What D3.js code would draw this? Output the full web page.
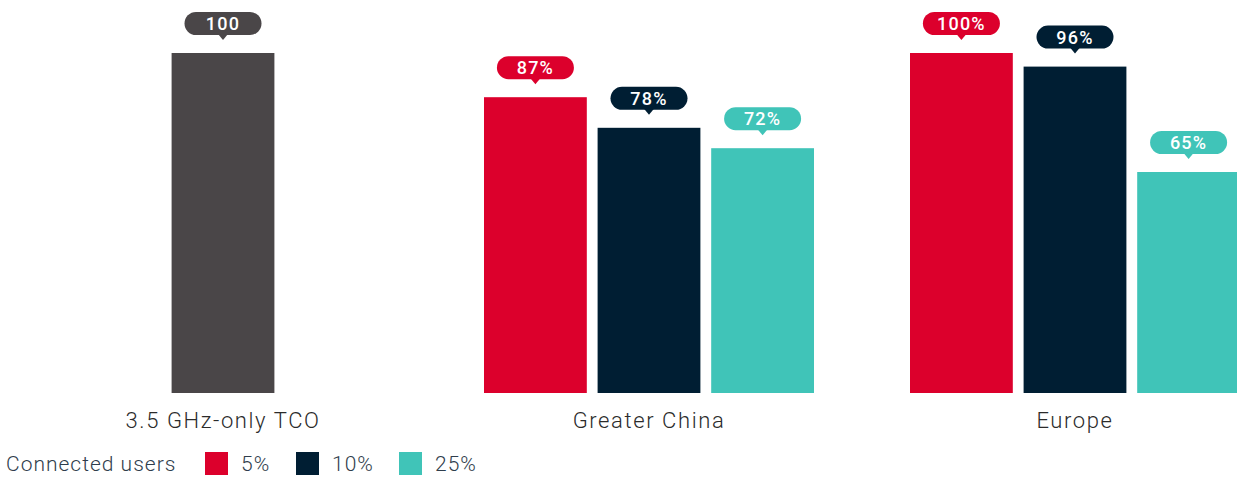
<!DOCTYPE html>
<html>
<head>
<meta charset="utf-8">
<script src="https://cdn.jsdelivr.net/npm/d3@7"></script>
<style>
	body { margin: 0; background: #fff; }
	svg { display: block; font-family: Roboto, "Noto Sans", sans-serif; }
</style>
</head>
<body>
<div id="chart"></div>
<script>
const groups = ["3.5 GHz-only TCO", "Greater China", "Europe"]
const seriesNames = ["5%", "10%", "25%"]
const baselineValue = 100
const share5 = [87, 100]
const share10 = [78, 96]
const share25 = [72, 65]

const colors = { "5%": "#dc002c", "10%": "#001e33", "25%": "#40c4b8", base: "#4a4648" }

const params = { width: 1237, height: 477, baseY: 393, topY: 53 }

// rows for the bars
const rows = [{ group: groups[0], series: "base", value: baselineValue, label: "100" }]
groups.slice(1).forEach((g, i) => {
	[share5, share10, share25].forEach((arr, j) => {
		rows.push({ group: g, series: seriesNames[j], value: arr[i], label: arr[i] + "%" })
	})
})

const svg = d3.select("#chart").append("svg")
	.attr("width", params.width)
	.attr("height", params.height)

const xScale = d3.scaleBand()
	.domain(groups)
	.range([10, 1288])

const innerScale = d3.scaleBand()
	.domain(seriesNames)
	.range([-165, 165])
	.paddingInner(0.095)

const yScale = d3.scaleLinear()
	.domain([0, 100])
	.range([params.baseY, params.topY])

const bw = innerScale.bandwidth()
const center = d => xScale(d.group) + xScale.bandwidth() / 2
const barX = d => d.series === "base" ? center(d) - bw / 2 : center(d) + innerScale(d.series)

svg.append("g")
	.selectAll("rect")
	.data(rows)
	.join("rect")
	.attr("x", barX)
	.attr("y", d => yScale(d.value))
	.attr("width", bw)
	.attr("height", d => params.baseY - yScale(d.value))
	.attr("fill", d => colors[d.series])

// value bubbles, pointer tip sits 14px above the bar
const bubW = 77, bubH = 23, gapBelow = 14
const bubbles = svg.append("g")
	.selectAll("g")
	.data(rows)
	.join("g")
	.attr("transform", d => `translate(${barX(d) + bw / 2}, ${yScale(d.value) - gapBelow})`)

bubbles.append("rect")
	.attr("x", -bubW / 2)
	.attr("y", -bubH - 4)
	.attr("width", bubW)
	.attr("height", bubH)
	.attr("rx", bubH / 2)
	.attr("fill", d => colors[d.series])

bubbles.append("path")
	.attr("d", "M-5,-5 L5,-5 L0,1 Z")
	.attr("fill", d => colors[d.series])

bubbles.append("text")
	.attr("y", -4 - bubH / 2)
	.attr("dy", "0.36em")
	.attr("text-anchor", "middle")
	.attr("fill", "#fff")
	.attr("font-size", 18)
	.attr("font-weight", 500)
	.attr("letter-spacing", "1.2px")
	.text(d => d.label)

// category labels
svg.append("g")
	.selectAll("text")
	.data(groups)
	.join("text")
	.attr("x", d => xScale(d) + xScale.bandwidth() / 2)
	.attr("y", 428)
	.attr("text-anchor", "middle")
	.attr("fill", "#2b2b2b")
	.attr("font-size", 22)
	.attr("font-weight", 300)
	.attr("letter-spacing", "1.6px")
	.text(d => d)

// legend
const legend = svg.append("g")
legend.append("text")
	.attr("x", 6)
	.attr("y", 471)
	.attr("fill", "#2f3d4c")
	.attr("font-size", 21)
	.attr("font-weight", 300)
	.attr("letter-spacing", "1px")
	.text("Connected users")

const legendX = [205, 296, 399]
seriesNames.forEach((s, i) => {
	legend.append("rect")
		.attr("x", legendX[i])
		.attr("y", 452)
		.attr("width", 23)
		.attr("height", 23)
		.attr("fill", colors[s])
	legend.append("text")
		.attr("x", legendX[i] + 36)
		.attr("y", 471)
		.attr("fill", "#2f3d4c")
		.attr("font-size", 21)
		.attr("font-weight", 300)
		.attr("letter-spacing", "1px")
		.text(s)
})
</script>
</body>
</html>
